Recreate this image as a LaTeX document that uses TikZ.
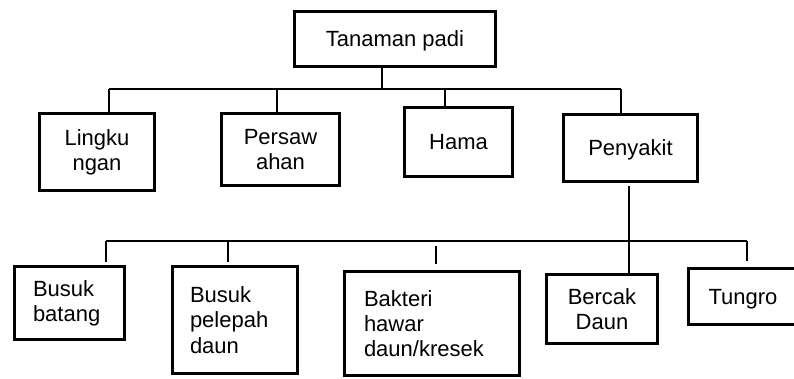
\documentclass[tikz,border=0pt]{standalone}
\usepackage{fontspec}
\setmainfont{Liberation Sans}
\usetikzlibrary{positioning,calc}

\begin{document}
\begin{tikzpicture}[x=0.75pt,y=-0.75pt,font=\fontsize{16.5}{19}\selectfont,
  kotak/.style={draw,line width=2.2pt,inner sep=0pt},
  lnk/.style={line width=1pt}]
\useasboundingbox (0,0) rectangle (794,379);

% baris atas
\node[kotak,text depth=0pt,minimum width=150.75pt,minimum height=41.25pt] (padi) at (395,39) {Tanaman padi};
\node[kotak,align=center,minimum width=86.25pt,minimum height=57.75pt] (lingk) at (97,152) {Lingku\\ngan};
\node[kotak,align=center,minimum width=88.5pt,minimum height=54pt] (sawah) at (280.5,149.5) {Persaw\\ahan};
\node[kotak,text depth=0pt,minimum width=81pt,minimum height=51.75pt] (hama) at (458.5,142) {Hama};
\node[kotak,text depth=0pt,minimum width=100.5pt,minimum height=50.25pt] (sakit) at (630.5,148) {Penyakit};

% baris bawah
\node[kotak,align=left,text width=54.75pt,minimum width=82.5pt,minimum height=54.75pt] (batang) at (69.5,303) {Busuk\\batang};
\node[kotak,align=left,text width=67.5pt,minimum width=93.75pt,minimum height=80.25pt] (pelepah) at (235,320) {Busuk\\pelepah\\daun};
\node[kotak,align=left,text width=102pt,minimum width=131.25pt,minimum height=78pt] (bakteri) at (432,323.5) {Bakteri\\hawar\\daun/kresek};
\node[kotak,align=center,minimum width=83.25pt,minimum height=51.75pt] (bercak) at (602,309) {Bercak\\Daun};
\node[kotak,text depth=0pt,minimum width=81.75pt,minimum height=42pt] (tungro) at (743,296.5) {Tungro};

% garis atas
\coordinate (bus1) at (382,89);
\draw[lnk] (padi.south -| bus1) -- (bus1);
\foreach \n/\x in {lingk/109,sawah/277,hama/445,sakit/621}
  \coordinate (bus1-\n) at (\x,89);
\draw[lnk] (bus1-lingk) -- (bus1-sakit);
\foreach \n in {lingk,sawah,hama,sakit}
  \draw[lnk] (bus1-\n) -- (bus1-\n |- \n.north);

% garis bawah
\coordinate (bus2-sakit) at (629,241);
\draw[lnk,shorten <=2.5pt] (sakit.south -| bus2-sakit) -- (bercak.north -| bus2-sakit);
\foreach \n/\x in {batang/106,pelepah/228,bakteri/436,tungro/747}
  \coordinate (bus2-\n) at (\x,241);
\draw[lnk] (bus2-batang) -- (bus2-tungro);
\draw[lnk,shorten >=2.25pt] (bus2-batang) -- (bus2-batang |- batang.north);
\draw[lnk,shorten >=2.25pt] (bus2-pelepah) -- (bus2-pelepah |- pelepah.north);
\draw[lnk,shorten <=3.75pt,shorten >=4.5pt] (bus2-bakteri) -- (bus2-bakteri |- bakteri.north);
\draw[lnk,shorten >=4.5pt] (bus2-tungro) -- (bus2-tungro |- tungro.north);
\end{tikzpicture}
\end{document}
